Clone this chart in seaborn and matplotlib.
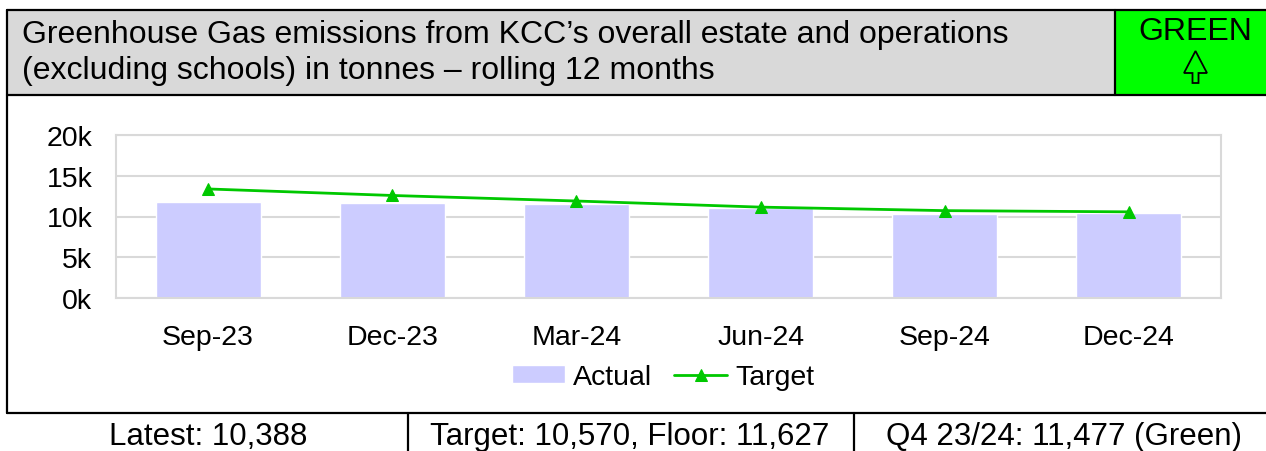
import matplotlib
matplotlib.use("Agg")
import matplotlib.pyplot as plt
import numpy as np
import seaborn as sns
from matplotlib.lines import Line2D
from matplotlib.patches import Polygon, Rectangle
from matplotlib.ticker import FuncFormatter

# ── Data ──────────────────────────────────────────────────────────────────────
months = ["Sep-23", "Dec-23", "Mar-24", "Jun-24", "Sep-24", "Dec-24"]
actual = [11750, 11600, 11477, 11050, 10350, 10388]
target = [13380, 12580, 11900, 11150, 10720, 10570]

title = ("Greenhouse Gas emissions from KCC\u2019s overall estate and operations\n"
         "(excluding schools) in tonnes \u2013 rolling 12 months")
rag = "GREEN"
footer = ["Latest: 10,388", "Target: 10,570, Floor: 11,627", "Q4 23/24: 11,477 (Green)"]

BAR_COLOR = "#ccccff"
LINE_COLOR = "#00c800"
GRID_COLOR = "#d9d9d9"

sns.set_style("white")
plt.rcParams["font.family"] = ["Liberation Sans", "DejaVu Sans"]
plt.rcParams["text.color"] = "black"
plt.rcParams["xtick.color"] = "black"
plt.rcParams["ytick.color"] = "black"

W, H = 1266, 452
fig = plt.figure(figsize=(W / 100, H / 100), dpi=100)


def fx(px):
    return px / W


def fy(py):
    return 1 - py / H


# ── Header ────────────────────────────────────────────────────────────────────
fig.patches.append(Rectangle((fx(7), fy(96)), fx(1115 - 7), (96 - 11) / H,
                             transform=fig.transFigure, facecolor="#d9d9d9",
                             edgecolor="none", zorder=0))
fig.patches.append(Rectangle((fx(1115), fy(96)), fx(W - 1115), (96 - 11) / H,
                             transform=fig.transFigure, facecolor="#00ff00",
                             edgecolor="none", zorder=0))

lw = 1.6
for seg in [
    ([7, W], [11, 11]),
    ([7, W], [96, 96]),
    ([7, 7], [11, 414]),
    ([1115, 1115], [11, 96]),
    ([7, W], [414, 414]),
    ([408, 408], [414, H]),
    ([854, 854], [414, H]),
]:
    fig.add_artist(Line2D([fx(v) for v in seg[0]], [fy(v) for v in seg[1]],
                          transform=fig.transFigure, color="black", linewidth=lw))

fig.text(fx(22), fy(53), title, fontsize=23, ha="left", va="center", linespacing=1.22)
fig.text(fx(1195), fy(32), rag, fontsize=23, ha="center", va="center")

# outlined up arrow under the status label
arrow_px = [(1195.5, 52), (1207, 74), (1198.5, 74), (1198.5, 84),
            (1192.5, 84), (1192.5, 74), (1184, 74)]
fig.patches.append(Polygon([(fx(a), fy(b)) for a, b in arrow_px], closed=True,
                           transform=fig.transFigure, facecolor="none",
                           edgecolor="black", linewidth=1.3))

# ── Chart ─────────────────────────────────────────────────────────────────────
ax = fig.add_axes([fx(116), fy(299), fx(1221 - 116), (299 - 136) / H])
x = np.arange(len(months))
sns.barplot(x=x, y=actual, color=BAR_COLOR, saturation=1, width=0.57,
            ax=ax, label="Actual", zorder=2)
sns.lineplot(x=x, y=target, color=LINE_COLOR, linewidth=2, marker="^",
             markersize=8, markeredgecolor=LINE_COLOR, ax=ax, label="Target",
             zorder=3)

ax.set_xlim(-0.5, len(months) - 0.5)
ax.set_ylim(0, 20000)
ax.set_yticks([0, 5000, 10000, 15000, 20000])
ax.yaxis.set_major_formatter(FuncFormatter(lambda v, _: f"{v / 1000:.0f}k"))
ax.set_xticks(x)
ax.set_xticklabels(months)
ax.tick_params(axis="both", length=0, labelsize=20.5, labelcolor="black")
ax.tick_params(axis="y", pad=17)
ax.tick_params(axis="x", pad=19)
ax.grid(axis="y", color=GRID_COLOR, linewidth=1.5, zorder=0)
ax.set_axisbelow(True)
for sp in ax.spines.values():
    sp.set_visible(True)
    sp.set_color(GRID_COLOR)
    sp.set_linewidth(1.5)
ax.set_xlabel("")
ax.set_ylabel("")

handles, labels = ax.get_legend_handles_labels()
order = [labels.index("Actual"), labels.index("Target")]
ax.get_legend().remove()
fig.legend([handles[i] for i in order], [labels[i] for i in order],
           loc="center", bbox_to_anchor=(fx(663), fy(378)),
           ncol=2, frameon=False, fontsize=20.5, handlelength=1.85,
           handleheight=0.55, handletextpad=0.28, columnspacing=0.8)

# ── Footer ────────────────────────────────────────────────────────────────────
for txt, cx in zip(footer, [208, 630, 1064]):
    fig.text(fx(cx), fy(437), txt, fontsize=22.5, ha="center", va="center")

fig.savefig("out.png", dpi=100)
